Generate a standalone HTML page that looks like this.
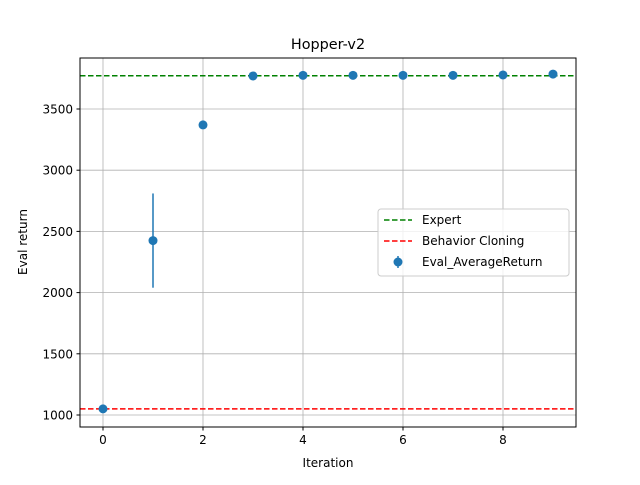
<!DOCTYPE html>
<html><head><meta charset="utf-8"><style>body{margin:0;background:#fff}svg{font-family:"DejaVu Sans","Liberation Sans",sans-serif}</style></head>
<body>
<svg id="chart" width="640" height="480">
<rect x="0" y="0" width="640" height="480" fill="#fff"/>
<g id="grid"></g>
<g id="lines"></g>
<g id="marks"></g>
<rect x="80" y="58" width="496" height="369" fill="none" stroke="#000" stroke-width="1"/>
<g id="axes"></g>
<text x="328" y="49" text-anchor="middle" font-size="14.4">Hopper-v2</text>
<text x="328" y="467" text-anchor="middle" font-size="12">Iteration</text>
<text x="27" y="242" text-anchor="middle" font-size="12" transform="rotate(-90 27 242)">Eval return</text>
<g>
<rect x="378" y="209" width="191" height="67" rx="3" fill="#fff" fill-opacity="0.8" stroke="#ccc"/>
<g><line x1="384" y1="220" x2="412" y2="220" stroke="green" stroke-width="1.5" stroke-dasharray="5.5,2.5"/><text x="422" y="224" font-size="12">Expert</text></g>
<g><line x1="384" y1="241" x2="412" y2="241" stroke="red" stroke-width="1.5" stroke-dasharray="5.5,2.5"/><text x="422" y="245" font-size="12">Behavior Cloning</text></g>
<g><line x1="398" y1="256" x2="398" y2="268" stroke="#1f77b4" stroke-width="1.5"/><circle cx="398" cy="262" r="4.5" fill="#1f77b4"/><text x="422" y="266" font-size="12">Eval_AverageReturn</text></g>
</g>
</svg>
<script>
const iterations=[0,1,2,3,4,5,6,7,8,9];
const returns=[1050,2425,3370,3770,3775,3775,3775,3775,3778,3785];
const errors=[0,385,0,0,0,0,0,0,0,0];
const expertReturn=3772;
const bcReturn=1050;
const xTicks=[0,2,4,6,8];
const yTicks=[1000,1500,2000,2500,3000,3500];
const NS="http://www.w3.org/2000/svg";
const X=v=>103+(v)*50;
const Y=v=>415-(v-1000)*0.1224;
function mk(t,a,p){const e=document.createElementNS(NS,t);for(const k in a)e.setAttribute(k,a[k]);document.getElementById(p).appendChild(e);return e;}
xTicks.forEach(t=>{
 const g=mk('line',{x1:X(t),x2:X(t),y1:58,y2:427,stroke:'#b0b0b0','stroke-width':0.8},'grid');
 
 
 mk('line',{x1:X(t),x2:X(t),y1:427,y2:430.5,stroke:'#000'},'axes');
 const l=mk('text',{x:X(t),y:444,'text-anchor':'middle','font-size':12},'axes');l.textContent=t;
 
 
});
yTicks.forEach(t=>{
 const g=mk('line',{x1:80,x2:576,y1:Y(t),y2:Y(t),stroke:'#b0b0b0','stroke-width':0.8},'grid');
 
 
 mk('line',{x1:76.5,x2:80,y1:Y(t),y2:Y(t),stroke:'#000'},'axes');
 const l=mk('text',{x:73,y:Y(t)+4.5,'text-anchor':'end','font-size':12},'axes');l.textContent=t;
 
 
});
const e1=mk('line',{x1:80,x2:576,y1:Y(expertReturn),y2:Y(expertReturn),stroke:'green','stroke-width':1.5,'stroke-dasharray':'5.5,2.5'},'lines');


const b1=mk('line',{x1:80,x2:576,y1:Y(bcReturn),y2:Y(bcReturn),stroke:'red','stroke-width':1.5,'stroke-dasharray':'5.5,2.5'},'lines');


iterations.forEach((it,i)=>{
 if(errors[i]>0){const eb=mk('line',{x1:X(it),x2:X(it),y1:Y(returns[i]-errors[i]),y2:Y(returns[i]+errors[i]),stroke:'#1f77b4','stroke-width':1.5},'marks');
 
 }
 const c=mk('circle',{cx:X(it),cy:Y(returns[i]),r:4.5,fill:'#1f77b4'},'marks');
 
 
});
</script>
</body></html>
